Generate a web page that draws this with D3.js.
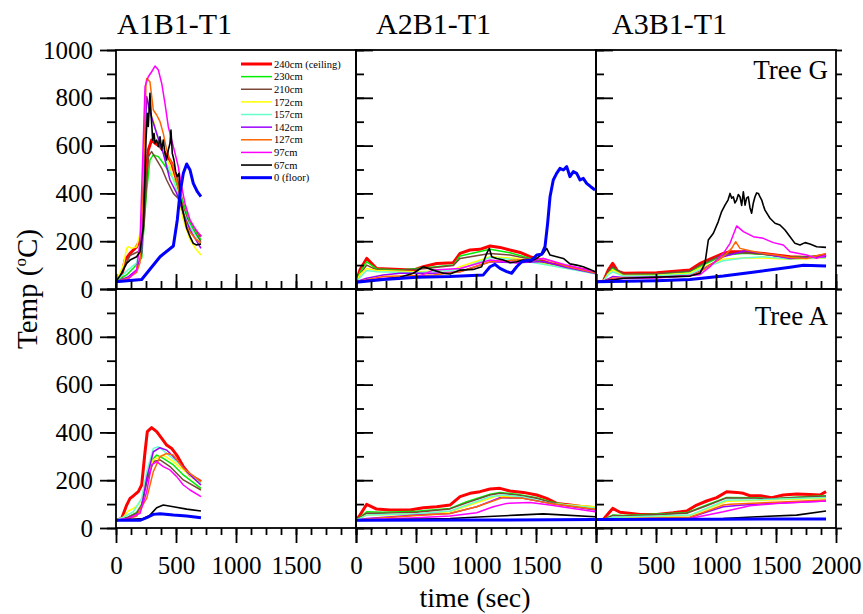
<!DOCTYPE html>
<html><head><meta charset="utf-8">
<script src="https://cdn.jsdelivr.net/npm/d3@7"></script>
<style>
html,body{margin:0;padding:0;background:#fff;}
svg{display:block;}
</style></head><body>
<svg id="chart" width="863" height="614"></svg>
<script>
// Thermocouple heights, in legend order
const seriesNames = ["240cm (ceiling)","230cm","210cm","172cm","157cm","142cm","127cm","97cm","67cm","0 (floor)"];
const seriesColors = ["#ff0000","#00ee00","#7a4636","#ffff00","#66ffcc","#9900ff","#ff6600","#ff00ff","#000000","#0000ff"];
const seriesWidths = [3,1.5,1.5,1.5,1.5,1.5,1.5,1.5,1.6,3];

const columnTitles = ["A1B1-T1","A2B1-T1","A3B1-T1"];
const rowLabels = ["Tree G","Tree A"];
const xMajorTicks = [0,500,1000,1500,2000];
const yMajorTicks = [0,200,400,600,800,1000];

// Each panel: one [time (s), temperature (°C)] series per height
const a1TreeG = [
  [[0,30],[40,35],[75,121],[117,149],[172,177],[214,219],[242,414],[269,582],[297,623],[325,610],[367,596],[422,561],[464,526],[506,456],[547,372],[589,303],[644,247],[708,219]],
  [[0,30],[90,60],[150,90],[214,130],[256,414],[283,540],[311,561],[353,554],[394,526],[450,484],[506,442],[561,358],[617,275],[708,205]],
  [[0,30],[75,100],[117,140],[200,160],[230,250],[269,554],[297,575],[339,540],[381,505],[422,456],[478,400],[519,379],[561,330],[617,261],[708,198]],
  [[0,30],[61,100],[89,170],[103,177],[131,170],[172,177],[214,261],[242,763],[269,763],[311,707],[353,623],[394,582],[450,512],[506,414],[561,289],[617,205],[672,163],[708,142]],
  [[0,30],[100,80],[172,110],[214,200],[242,600],[256,791],[311,693],[367,610],[422,526],[478,456],[533,372],[589,289],[708,184]],
  [[0,30],[100,50],[172,80],[214,150],[242,650],[256,805],[283,742],[339,651],[394,568],[450,456],[506,400],[561,317],[617,247],[708,170]],
  [[0,30],[100,45],[172,70],[200,110],[228,450],[250,860],[256,881],[283,867],[311,749],[339,728],[367,700],[394,651],[422,582],[450,540],[478,512],[519,428],[561,317],[603,247],[658,212],[708,191]],
  [[0,30],[100,40],[172,79],[200,200],[214,414],[242,847],[269,888],[297,909],[325,933],[353,916],[381,860],[408,777],[436,679],[464,623],[492,568],[519,512],[547,428],[575,358],[617,289],[658,254],[708,219]],
  [[0,30],[47,66],[89,107],[117,121],[172,135],[200,156],[228,261],[250,623],[261,735],[269,680],[283,819],[292,735],[306,623],[317,651],[325,610],[339,623],[353,596],[367,637],[381,582],[394,623],[408,568],[422,540],[436,582],[450,610],[458,665],[469,568],[483,540],[497,491],[511,470],[525,484],[533,386],[561,317],[589,254],[617,219],[644,191],[672,184],[708,188]],
  [[0,30],[214,40],[256,66],[367,135],[478,180],[511,290],[533,400],[561,484],[589,523],[617,498],[644,442],[678,407],[708,386]]
];

const a2TreeG = [
  [[0,30],[33,80],[89,128],[172,86],[367,82],[478,79],[561,93],[672,107],[811,110],[867,149],[950,163],[1033,166],[1117,180],[1200,174],[1283,163],[1367,153],[1450,135],[1533,121],[1617,107],[1756,93],[1894,82],[1992,68]],
  [[0,30],[33,70],[89,114],[172,84],[367,80],[561,88],[811,100],[867,138],[1117,166],[1283,152],[1450,128],[1617,105],[1756,90],[1992,70]],
  [[0,30],[33,60],[89,100],[172,80],[367,78],[561,85],[811,98],[867,128],[1117,149],[1283,142],[1450,125],[1617,103],[1992,68]],
  [[0,30],[33,60],[89,86],[172,77],[506,72],[811,80],[867,93],[1117,135],[1339,128],[1617,100],[1992,66]],
  [[0,30],[89,77],[172,72],[506,68],[867,82],[1117,132],[1339,122],[1617,98],[1992,64]],
  [[0,30],[89,45],[228,59],[367,66],[644,66],[867,72],[1117,114],[1339,110],[1561,115],[1756,90],[1992,66]],
  [[0,30],[228,52],[644,59],[867,72],[1117,114],[1561,128],[1756,95],[1992,68]],
  [[0,30],[228,45],[506,49],[644,79],[867,86],[1117,121],[1339,110],[1561,128],[1756,100],[1992,72]],
  [[0,30],[367,49],[478,66],[561,93],[644,79],[728,66],[783,63],[867,79],[978,82],[1047,93],[1089,149],[1111,170],[1131,135],[1172,128],[1228,121],[1283,110],[1339,114],[1394,121],[1450,114],[1506,128],[1561,149],[1589,170],[1617,142],[1672,135],[1728,128],[1783,105],[1839,100],[1894,93],[1950,82],[1992,72]],
  [[0,28],[228,40],[506,49],[783,52],[1061,59],[1117,93],[1158,103],[1200,86],[1256,73],[1297,66],[1339,93],[1381,114],[1422,119],[1464,121],[1506,142],[1547,145],[1575,177],[1597,275],[1617,386],[1644,456],[1672,484],[1700,505],[1728,498],[1756,512],[1783,470],[1811,491],[1839,484],[1867,456],[1894,463],[1922,442],[1956,428],[1992,414]]
];

const a3TreeG = [
  [[0,30],[61,32],[103,80],[139,107],[180,75],[228,66],[506,68],[783,79],[867,107],[1061,149],[1117,156],[1228,156],[1394,149],[1617,135],[1783,132],[1917,142]],
  [[0,30],[61,32],[103,70],[139,86],[228,60],[506,62],[783,72],[867,95],[1061,140],[1228,150],[1394,145],[1617,132],[1917,138]],
  [[0,30],[61,32],[103,75],[139,93],[228,62],[506,64],[783,75],[867,100],[1061,145],[1228,152],[1394,146],[1617,130],[1917,140]],
  [[0,30],[61,32],[103,65],[139,80],[228,56],[506,58],[783,66],[867,88],[1061,125],[1228,130],[1394,130],[1617,124],[1917,130]],
  [[0,30],[61,32],[103,60],[139,72],[228,54],[506,55],[783,62],[867,82],[1061,118],[1228,130],[1394,135],[1617,126],[1917,132]],
  [[0,30],[61,32],[139,52],[228,48],[506,50],[783,55],[867,75],[1061,135],[1242,160],[1394,148],[1617,128],[1917,135]],
  [[0,30],[61,31],[139,45],[228,46],[506,48],[783,54],[867,72],[1061,135],[1131,170],[1164,198],[1200,170],[1283,160],[1394,149],[1506,142],[1617,132],[1756,128],[1917,149]],
  [[0,30],[139,40],[228,44],[506,46],[867,60],[950,93],[1061,149],[1117,191],[1172,264],[1228,240],[1311,219],[1394,212],[1478,194],[1561,184],[1617,156],[1756,142],[1839,128],[1917,142]],
  [[0,30],[139,38],[228,45],[783,54],[867,66],[908,107],[936,205],[978,233],[1019,282],[1047,324],[1075,351],[1100,372],[1117,400],[1131,380],[1144,386],[1158,360],[1172,372],[1186,395],[1200,386],[1214,350],[1228,407],[1242,351],[1255,380],[1269,386],[1283,340],[1297,317],[1311,360],[1325,386],[1339,402],[1353,400],[1367,385],[1381,372],[1394,350],[1408,330],[1450,296],[1492,275],[1533,268],[1575,247],[1617,219],[1658,191],[1700,184],[1742,194],[1783,188],[1839,177],[1917,174]],
  [[0,30],[506,35],[783,40],[1061,54],[1339,72],[1617,91],[1728,99],[1917,96]]
];

const a1TreeA = [
  [[0,32],[47,40],[89,96],[117,124],[144,134],[186,152],[214,180],[242,319],[261,403],[297,420],[339,403],[381,375],[422,347],[464,333],[506,305],[561,257],[617,222],[708,194]],
  [[0,32],[100,45],[172,65],[214,100],[256,200],[311,291],[339,305],[394,291],[478,264],[561,222],[708,166]],
  [[0,32],[100,45],[172,62],[214,95],[256,190],[311,278],[367,285],[450,257],[561,201],[708,159]],
  [[0,32],[61,45],[100,70],[172,90],[214,120],[256,220],[311,285],[394,305],[478,278],[708,180]],
  [[0,32],[61,45],[144,68],[214,124],[256,236],[311,333],[353,340],[422,312],[506,278],[589,236],[708,187]],
  [[0,32],[100,40],[172,55],[214,90],[256,208],[311,319],[367,336],[422,326],[506,285],[589,236],[708,180]],
  [[0,32],[100,38],[172,50],[214,90],[256,124],[311,236],[367,298],[422,312],[478,305],[561,250],[708,194]],
  [[0,32],[100,40],[200,61],[256,152],[297,264],[339,278],[394,257],[450,243],[506,215],[561,180],[617,159],[708,131]],
  [[0,32],[228,40],[283,54],[339,85],[394,96],[478,89],[589,79],[708,71]],
  [[0,32],[200,32],[256,43],[311,57],[367,60],[478,54],[589,50],[708,43]]
];

const a2TreeA = [
  [[0,32],[33,54],[89,99],[172,79],[283,75],[450,75],[561,85],[672,89],[783,96],[867,131],[950,145],[1033,152],[1117,163],[1200,166],[1283,155],[1394,149],[1506,138],[1589,124],[1672,103],[1783,96],[1894,89],[1992,85]],
  [[0,32],[89,68],[228,66],[506,70],[783,82],[922,110],[1117,141],[1200,149],[1339,141],[1506,127],[1617,110],[1756,96],[1992,82]],
  [[0,32],[89,62],[228,62],[506,66],[783,80],[922,105],[1117,138],[1200,145],[1339,138],[1506,124],[1617,108],[1756,94],[1992,78]],
  [[0,32],[89,54],[228,55],[506,58],[783,68],[1172,134],[1339,130],[1617,103],[1992,89]],
  [[0,32],[89,54],[228,56],[506,60],[783,71],[1117,131],[1228,138],[1394,130],[1617,104],[1992,84]],
  [[0,32],[89,40],[506,54],[783,61],[1006,89],[1200,127],[1394,124],[1617,103],[1992,75]],
  [[0,32],[89,38],[506,52],[783,61],[1006,89],[1228,128],[1394,124],[1617,103],[1992,78]],
  [[0,32],[89,36],[506,43],[783,50],[1006,64],[1144,89],[1256,103],[1450,107],[1617,96],[1992,68]],
  [[0,32],[783,40],[1061,47],[1339,54],[1561,59],[1672,56],[1992,47]],
  [[0,32],[1000,33],[1992,36]]
];

const a3TreeA = [
  [[0,36],[61,36],[103,61],[139,82],[200,66],[367,57],[506,57],[644,64],[756,71],[839,96],[922,113],[1006,127],[1089,152],[1172,149],[1228,145],[1283,135],[1367,135],[1464,127],[1561,138],[1672,142],[1783,140],[1867,138],[1917,152]],
  [[0,36],[61,36],[139,54],[228,52],[756,64],[922,96],[1089,128],[1339,127],[1464,121],[1617,128],[1917,135]],
  [[0,36],[61,36],[139,52],[228,50],[756,62],[922,93],[1089,126],[1339,125],[1464,122],[1617,127],[1917,133]],
  [[0,36],[61,36],[139,42],[783,52],[1089,112],[1339,115],[1917,124]],
  [[0,36],[61,36],[139,45],[783,54],[1089,117],[1339,118],[1917,128]],
  [[0,36],[139,37],[783,44],[1061,89],[1200,95],[1500,104],[1917,113]],
  [[0,36],[139,38],[783,45],[1061,96],[1117,99],[1500,108],[1917,117]],
  [[0,36],[783,40],[1061,68],[1283,93],[1500,102],[1917,113]],
  [[0,36],[1061,40],[1339,47],[1672,54],[1917,71]],
  [[0,36],[1000,37],[1917,38]]
];

const panels = [[a1TreeG, a2TreeG, a3TreeG], [a1TreeA, a2TreeA, a3TreeA]];

// Pick the first installed Times-like serif face; a wider fallback gets a size correction.
function pickFont() {
  const ctx = document.createElement("canvas").getContext("2d");
  const sample = "A1B1-T1 time (sec) 1000 Temp";
  const widthWith = f => { ctx.font = f; return ctx.measureText(sample).width; };
  const candidates = ["Liberation Serif", "Times New Roman", "Tinos", "Nimbus Roman", "Nimbus Roman No9 L", "Times"];
  for (const name of candidates) {
    const a = widthWith(`40px "${name}", monospace`), b = widthWith("40px monospace");
    const c = widthWith(`40px "${name}", sans-serif`), d = widthWith("40px sans-serif");
    if (a !== b && c !== d) return { family: `"${name}", serif`, k: 1 };
  }
  return { family: '"DejaVu Serif", serif', k: 0.88, stretch: "condensed" };
}
const font = pickFont();
const fs = px => (px * font.k).toFixed(2) + "px";

// Layout
const colLeft = [116, 356, 596], panelW = 240;
const rowTop = [50, 289], panelH = 239;
const axisStroke = 1.8;

const svg = d3.select("#chart").style("font-family", font.family);
if (font.stretch) svg.style("font-stretch", font.stretch);

const x = d3.scaleLinear().domain([0, 2000]).range([0, panelW]);
const y = d3.scaleLinear().domain([0, 1000]).range([panelH, 0]);
const line = d3.line().x(d => x(d[0])).y(d => y(d[1]));

const xMinor = d3.range(0, 2001, 125);
const yMinor = d3.range(0, 1001, 100);

function styleAxis(g) {
  g.attr("font-family", null).attr("font-size", null);
  g.select(".domain").remove();
  g.selectAll(".tick line").attr("stroke", "#000").attr("stroke-width", axisStroke);
  g.selectAll(".tick text").attr("fill", "#000")
    .style("font-family", font.family)
    .style("font-size", fs(25));
}

panels.forEach((row, r) => {
  row.forEach((data, c) => {
    const g = svg.append("g").attr("transform", `translate(${colLeft[c]},${rowTop[r]})`);
    const clipId = `clip-${r}-${c}`;
    g.append("clipPath").attr("id", clipId)
      .append("rect").attr("width", panelW).attr("height", panelH);

    const plot = g.append("g").attr("clip-path", `url(#${clipId})`);
    data.forEach((pts, i) => {
      plot.append("path").datum(pts)
        .attr("d", line)
        .attr("fill", "none")
        .attr("stroke", seriesColors[i])
        .attr("stroke-width", seriesWidths[i])
        .attr("stroke-linejoin", "round");
    });

    // Left axis: outward on the first column, inward elsewhere
    if (c === 0) {
      g.append("g").call(d3.axisLeft(y).tickValues(yMinor).tickSize(9).tickFormat(""))
        .call(styleAxis);
      g.append("g").call(d3.axisLeft(y).tickValues(yMajorTicks).tickSize(16).tickPadding(7)
          .tickFormat(v => (r === 1 && v === 1000) ? "" : d3.format("d")(v)))
        .call(styleAxis);
    } else {
      g.append("g").call(d3.axisRight(y).tickValues(yMinor).tickSize(8).tickFormat(""))
        .call(styleAxis);
      g.append("g").call(d3.axisRight(y).tickValues(yMajorTicks).tickSize(17).tickFormat(""))
        .call(styleAxis);
    }
    // Right edge of the last column
    if (c === 2) {
      g.append("g").attr("transform", `translate(${panelW},0)`)
        .call(d3.axisRight(y).tickValues(yMinor).tickSize(6).tickFormat(""))
        .call(styleAxis);
    }

    // Time axis: inward on the top row, outward with labels on the bottom row
    const xLabels = c === 2 ? xMajorTicks : xMajorTicks.slice(0, 4);
    if (r === 0) {
      g.append("g").attr("transform", `translate(0,${panelH})`)
        .call(d3.axisTop(x).tickValues(xMinor).tickSize(8).tickFormat(""))
        .call(styleAxis);
      g.append("g").attr("transform", `translate(0,${panelH})`)
        .call(d3.axisTop(x).tickValues(xMajorTicks).tickSize(15).tickFormat(""))
        .call(styleAxis);
    } else {
      g.append("g").attr("transform", `translate(0,${panelH})`)
        .call(d3.axisBottom(x).tickValues(xMinor).tickSize(7).tickFormat(""))
        .call(styleAxis);
      g.append("g").attr("transform", `translate(0,${panelH})`)
        .call(d3.axisBottom(x).tickValues(xMajorTicks).tickSize(15).tickPadding(13)
          .tickFormat(v => xLabels.includes(v) ? d3.format("d")(v) : ""))
        .call(styleAxis);
    }

    g.append("rect").attr("width", panelW).attr("height", panelH)
      .attr("fill", "none").attr("stroke", "#000").attr("stroke-width", axisStroke);

    if (c === 2) {
      g.append("text").attr("x", 232).attr("y", r === 0 ? 29 : 36)
        .attr("text-anchor", "end").style("font-size", fs(27))
        .text(rowLabels[r]);
    }
  });
});

// Column titles
columnTitles.forEach((t, c) => {
  svg.append("text").attr("x", [117, 376, 612][c]).attr("y", 34)
    .style("font-size", fs(30)).text(t);
});

// Axis titles
svg.append("text").attr("x", 475).attr("y", 607).attr("text-anchor", "middle")
  .style("font-size", fs(28)).text("time (sec)");

const yTitle = svg.append("text").attr("transform", "translate(37,289) rotate(-90)")
  .attr("text-anchor", "middle").style("font-size", fs(29));
yTitle.append("tspan").text("Temp (");
yTitle.append("tspan").attr("dy", -11).style("font-size", fs(17)).text("o");
yTitle.append("tspan").attr("dy", 11).text("C)");

// Legend inside the first panel
const legend = svg.append("g").attr("transform", "translate(241,64)");
seriesNames.forEach((name, i) => {
  const ly = i * 12.63;
  legend.append("line").attr("x1", 0).attr("x2", 31).attr("y1", ly).attr("y2", ly)
    .attr("stroke", seriesColors[i]).attr("stroke-width", seriesWidths[i]);
  legend.append("text").attr("x", 33).attr("y", ly).attr("dy", "0.35em")
    .style("font-size", fs(10.5)).text(name);
});
</script>
</body></html>
